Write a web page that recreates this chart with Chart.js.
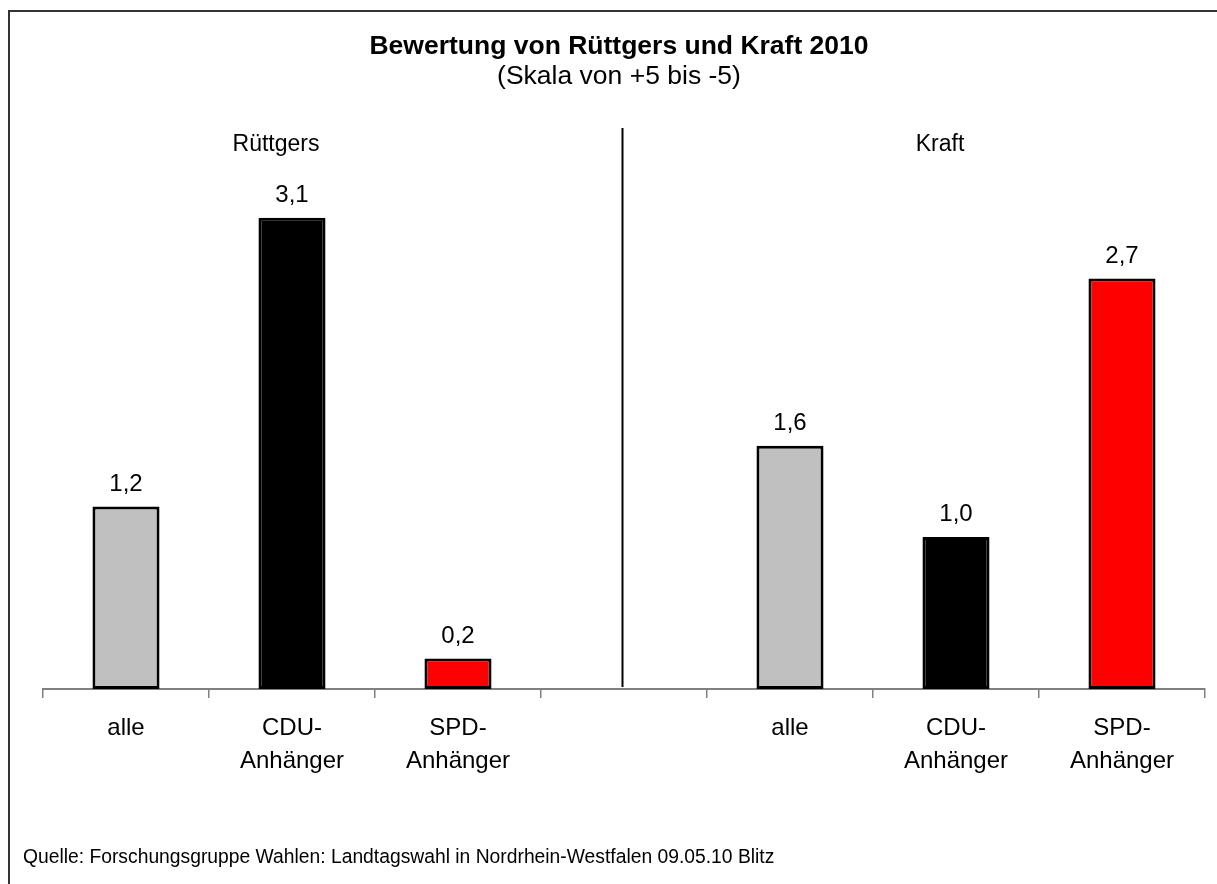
<!DOCTYPE html>
<html>
<head>
<meta charset="utf-8">
<script src="https://cdn.jsdelivr.net/npm/chart.js@4"></script>
<style>
    html, body { margin: 0; padding: 0; background: #fff; }
    #wrap { width: 1217px; height: 884px; }
</style>
</head>
<body>
<div id="wrap"><canvas id="chart" width="1217" height="884"></canvas></div>
<script>
const categories = ['alle', ['CDU-', 'Anhänger'], ['SPD-', 'Anhänger'], '', 'alle', ['CDU-', 'Anhänger'], ['SPD-', 'Anhänger']];
const values = [1.2, 3.1, 0.2, null, 1.6, 1.0, 2.7];
const valueLabels = ['1,2', '3,1', '0,2', '', '1,6', '1,0', '2,7'];
const barColors = ['#c0c0c0', '#000000', '#ff0000', 'rgba(0,0,0,0)', '#c0c0c0', '#000000', '#ff0000'];
const groups = [{ label: 'Rüttgers', index: 1 }, { label: 'Kraft', index: 5 }];
const titleText = 'Bewertung von Rüttgers und Kraft 2010';
const subtitleText = '(Skala von +5 bis -5)';
const sourceText = 'Quelle: Forschungsgruppe Wahlen: Landtagswahl in Nordrhein-Westfalen 09.05.10 Blitz';

const FONT = '"Liberation Sans", Arial, sans-serif';

const decor = {
    id: 'decor',
    afterDraw(chart) {
        const ctx = chart.ctx;
        const x = chart.scales.x;
        const area = chart.chartArea;
        ctx.save();

        // frame (top and left edges visible)
        ctx.strokeStyle = '#333';
        ctx.lineWidth = 2;
        ctx.beginPath();
        ctx.moveTo(9, 900);
        ctx.lineTo(9, 11);
        ctx.lineTo(1230, 11);
        ctx.stroke();

        ctx.fillStyle = '#000';
        ctx.textAlign = 'center';
        ctx.textBaseline = 'alphabetic';
        ctx.font = 'bold 26.5px ' + FONT;
        ctx.fillText(titleText, 619, 54);
        ctx.font = '26.5px ' + FONT;
        ctx.fillText(subtitleText, 619, 84);

        // separator between the two groups
        const sx = Math.round(x.getPixelForValue(3)) - 1.5;
        ctx.strokeStyle = '#000';
        ctx.lineWidth = 2;
        ctx.beginPath();
        ctx.moveTo(sx, 128);
        ctx.lineTo(sx, area.bottom - 2);
        ctx.stroke();

        ctx.font = '23px ' + FONT;
        groups.forEach(g => {
            ctx.fillText(g.label, x.getPixelForValue(g.index) - 16, 151);
        });

        // value labels
        ctx.font = '24px ' + FONT;
        const meta = chart.getDatasetMeta(0);
        meta.data.forEach((bar, i) => {
            if (values[i] === null) return;
            ctx.fillText(valueLabels[i], bar.x, bar.y - 16);
        });

        ctx.textAlign = 'left';
        ctx.font = '19.3px ' + FONT;
        ctx.fillText(sourceText, 23, 863);
        ctx.restore();
    }
};

new Chart(document.getElementById('chart'), {
    type: 'bar',
    data: {
        labels: categories,
        datasets: [{
            data: values,
            backgroundColor: barColors,
            borderColor: '#000',
            borderWidth: 3,
            borderSkipped: false,
            barPercentage: 0.404,
            categoryPercentage: 1
        }]
    },
    options: {
        responsive: false,
        animation: false,
        layout: { padding: { top: 157, left: 43, right: 12, bottom: 0 } },
        plugins: { legend: { display: false }, tooltip: { enabled: false }, title: { display: false } },
        scales: {
            x: {
                offset: true,
                afterFit: axis => { axis.height = 195; },
                border: { color: '#808080', width: 2 },
                grid: { offset: true, drawOnChartArea: false, drawTicks: true, tickLength: 9, color: '#808080', lineWidth: 1.5 },
                ticks: { color: '#000', padding: 14, autoSkip: false, maxRotation: 0, font: { family: FONT, size: 24, lineHeight: 1.375 } }
            },
            y: { display: false, min: 0, max: 3.5 }
        }
    },
    plugins: [decor]
});
</script>
</body>
</html>
